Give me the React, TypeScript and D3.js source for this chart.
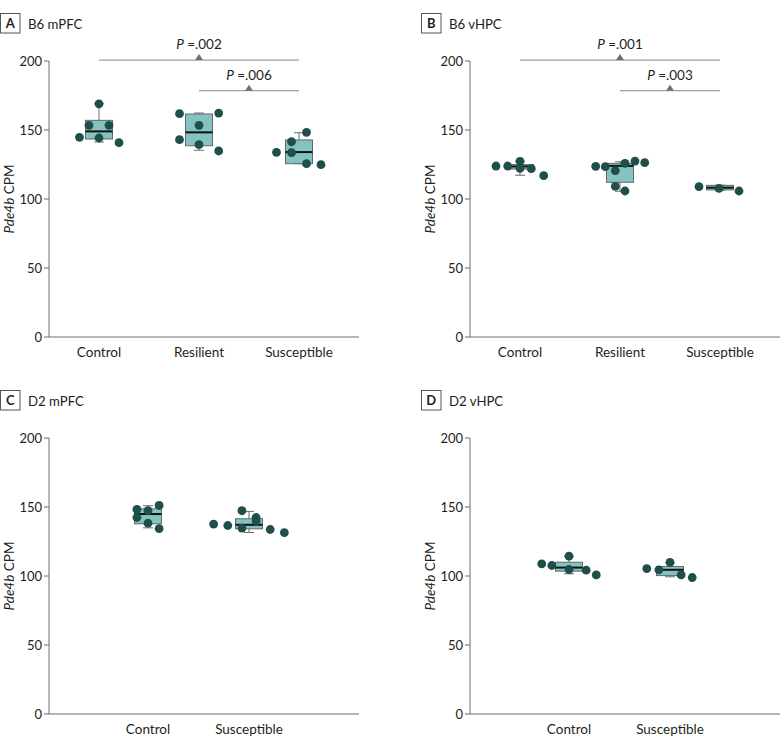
import React from "react";
import * as d3 from "d3";

// ---------- data ----------
const groups3 = ["Control", "Resilient", "Susceptible"];
const groups2 = ["Control", "Susceptible"];
const yTicks = [0, 50, 100, 150, 200];

// individual values (CPM) per group, and jitter column (fraction of category step)
const aControl = [144.7, 153.4, 169, 144.2, 153.4, 140.8];
const aControlJit = [-0.195, -0.1, 0, 0, 0.1, 0.2];
const aResilient = [161.8, 143, 153.4, 139.4, 162.3, 134.8];
const aResilientJit = [-0.195, -0.195, 0, 0, 0.197, 0.197];
const aSusceptible = [133.8, 141.5, 133.6, 148.3, 125.6, 124.9];
const aSusceptibleJit = [-0.225, -0.075, -0.075, 0.075, 0.075, 0.22];

const bControl = [123.9, 123.9, 127.3, 122.2, 122, 116.9];
const bControlJit = [-0.24, -0.123, 0, 0, 0.113, 0.237];
const bResilient = [123.7, 123.4, 120.5, 109.2, 125.8, 105.8, 127.5, 126.3];
const bResilientJit = [-0.243, -0.147, -0.047, -0.047, 0.05, 0.05, 0.15, 0.247];
const bSusceptible = [108.9, 107.7, 105.8];
const bSusceptibleJit = [-0.21, -0.01, 0.19];

const cControl = [148.2, 142.4, 147.3, 138.3, 151.1, 134.4];
const cControlJit = [-0.11, -0.11, 0, 0, 0.11, 0.11];
const cSusceptible = [137.6, 136.6, 147.3, 134.7, 142.4, 139.8, 133.7, 131.5];
const cSusceptibleJit = [-0.35, -0.21, -0.07, -0.07, 0.07, 0.07, 0.21, 0.35];

const dControl = [108.8, 107.6, 114.4, 104.7, 104.2, 100.8];
const dControlJit = [-0.27, -0.17, 0, 0, 0.17, 0.27];
const dSusceptible = [105.4, 104.5, 109.8, 100.8, 98.9];
const dSusceptibleJit = [-0.23, -0.11, 0, 0.11, 0.22];

// box stats: [whiskerLow, q1, median, q3, whiskerHigh]
const aBoxes = [
  [141.3, 143.5, 149, 157, 169],
  [135.3, 138.6, 148.3, 161.6, 162.3],
  [125.6, 125.6, 134, 142.8, 148],
];
const bBoxes = [
  [117.2, 121.7, 123.6, 124.9, 127.3],
  [105.6, 112.1, 124, 125.8, 127],
  [106.3, 106.6, 108.2, 109.9, 110],
];
const cBoxes = [
  [134.9, 137.8, 144.9, 148.7, 150.9],
  [131.5, 134.2, 137.1, 141.5, 146.8],
];
const dBoxes = [
  [101.6, 103.5, 106.1, 110, 114.1],
  [99.4, 100.3, 104.5, 106.9, 109.5],
];

// significance brackets: [fromGroup, toGroup, level (CPM), p text]
const aSig: [string, string, number, string][] = [
  ["Control", "Susceptible", 200.7, ".002"],
  ["Resilient", "Susceptible", 178.5, ".006"],
];
const bSig: [string, string, number, string][] = [
  ["Control", "Susceptible", 200.7, ".001"],
  ["Resilient", "Susceptible", 178.5, ".003"],
];

type PanelDef = {
  letter: string;
  title: string;
  cats: string[];
  values: number[][];
  jitter: number[][];
  boxes: number[][];
  sig: [string, string, number, string][];
  x0: number;
  y0: number;
};

const panels: PanelDef[] = [
  { letter: "A", title: "B6 mPFC", cats: groups3, values: [aControl, aResilient, aSusceptible], jitter: [aControlJit, aResilientJit, aSusceptibleJit], boxes: aBoxes, sig: aSig, x0: 0, y0: 0 },
  { letter: "B", title: "B6 vHPC", cats: groups3, values: [bControl, bResilient, bSusceptible], jitter: [bControlJit, bResilientJit, bSusceptibleJit], boxes: bBoxes, sig: bSig, x0: 421, y0: 0 },
  { letter: "C", title: "D2 mPFC", cats: groups2, values: [cControl, cSusceptible], jitter: [cControlJit, cSusceptibleJit], boxes: cBoxes, sig: [], x0: 0, y0: 377 },
  { letter: "D", title: "D2 vHPC", cats: groups2, values: [dControl, dSusceptible], jitter: [dControlJit, dSusceptibleJit], boxes: dBoxes, sig: [], x0: 421, y0: 377 },
];

const FONT = "Lato, 'Open Sans', sans-serif";
const DOT = "#1f4f4b";
const BOXFILL = "#84c3bf";
const BOXSTROKE = "#5f6b6a";
const AXIS = "#6d6d6d";
const TEXT = "#231f20";

function Panel({ p }: { p: PanelDef }) {
  const axisX = p.x0 + 49;
  const y = d3.scaleLinear().domain([0, 200]).range([p.y0 + 337, p.y0 + 61]);
  const x =
    p.cats.length === 3
      ? d3.scalePoint<string>().domain(p.cats).range([axisX, axisX + 300]).padding(0.5)
      : d3.scalePoint<string>().domain(p.cats).range([axisX + 48.5, axisX + 250.5]).padding(0.5);
  const step = x.step();
  const half = 13.5;
  const cap = 5;
  return (
    <g>
      {/* panel letter + title */}
      <rect x={p.x0 + 0.5} y={p.y0 + 13.5} width={19.5} height={19.5} fill="white" stroke="#555" strokeWidth={1} />
      <text x={p.x0 + 10.25} y={p.y0 + 28} textAnchor="middle" fontFamily={FONT} fontWeight="bold" fontSize={13} fill={TEXT}>
        {p.letter}
      </text>
      <text x={p.x0 + 28} y={p.y0 + 29} fontFamily={FONT} fontSize={13.2} fill={TEXT}>
        {p.title}
      </text>

      {/* y axis */}
      <line x1={axisX} x2={axisX} y1={y(200)} y2={y(0)} stroke={AXIS} strokeWidth={1} />
      {yTicks.map((t) => (
        <g key={t}>
          <line x1={axisX - 5} x2={axisX} y1={y(t)} y2={y(t)} stroke={AXIS} />
          <text x={axisX - 7} y={y(t)} dy="0.35em" textAnchor="end" fontFamily={FONT} fontSize={13} fill={TEXT}>
            {t}
          </text>
        </g>
      ))}
      <text
        transform={`translate(${p.x0 + 14},${(y(0) + y(200)) / 2}) rotate(-90)`}
        textAnchor="middle"
        fontFamily={FONT}
        fontSize={13.5}
        fill={TEXT}
      >
        <tspan fontStyle="italic">Pde4b</tspan> CPM
      </text>

      {/* x axis */}
      <line x1={axisX} x2={axisX + 310} y1={y(0)} y2={y(0)} stroke={AXIS} strokeWidth={1} />
      {p.cats.map((c) => (
        <text key={c} x={x(c)} y={y(0) + 20} textAnchor="middle" fontFamily={FONT} fontSize={13.5} fill={TEXT}>
          {c}
        </text>
      ))}

      {/* significance */}
      {p.sig.map(([a, b, lvl, txt]) => {
        const xa = x(a)!;
        const xb = x(b)!;
        const xm = (xa + xb) / 2;
        const yy = y(lvl);
        return (
          <g key={txt}>
            <line x1={xa} x2={xb} y1={yy} y2={yy} stroke="#a0a0a0" strokeWidth={1.2} />
            <path d={`M${xm - 4},${yy} L${xm + 4},${yy} L${xm},${yy - 6} Z`} fill="#707070" />
            <text x={xm} y={yy - 11} textAnchor="middle" fontFamily={FONT} fontSize={13.5} fill={TEXT}>
              <tspan fontStyle="italic">P</tspan> =
              {txt}
            </text>
          </g>
        );
      })}

      {/* boxes */}
      {p.cats.map((c, i) => {
        const [lo, q1, med, q3, hi] = p.boxes[i];
        const cx = x(c)!;
        return (
          <g key={c}>
            <line x1={cx} x2={cx} y1={y(hi)} y2={y(q3)} stroke={AXIS} />
            <line x1={cx} x2={cx} y1={y(q1)} y2={y(lo)} stroke={AXIS} />
            <line x1={cx - cap} x2={cx + cap} y1={y(hi)} y2={y(hi)} stroke={AXIS} />
            <line x1={cx - cap} x2={cx + cap} y1={y(lo)} y2={y(lo)} stroke={AXIS} />
            <rect x={cx - half} y={y(q3)} width={half * 2} height={Math.max(1, y(q1) - y(q3))} fill={BOXFILL} stroke={BOXSTROKE} strokeWidth={1} />
            <line x1={cx - half} x2={cx + half} y1={y(med)} y2={y(med)} stroke="#111" strokeWidth={2} />
          </g>
        );
      })}

      {/* dots */}
      {p.cats.map((c, i) =>
        p.values[i].map((v, j) => (
          <circle key={c + j} cx={x(c)! + p.jitter[i][j] * step} cy={y(v)} r={4.4} fill={DOT} />
        ))
      )}
    </g>
  );
}

export default function App() {
  return (
    <svg width={783} height={747} style={{ position: "absolute", left: 0, top: 0, background: "white" }}>
      <rect width={783} height={747} fill="white" />
      {panels.map((p) => (
        <Panel key={p.letter} p={p} />
      ))}
    </svg>
  );
}
